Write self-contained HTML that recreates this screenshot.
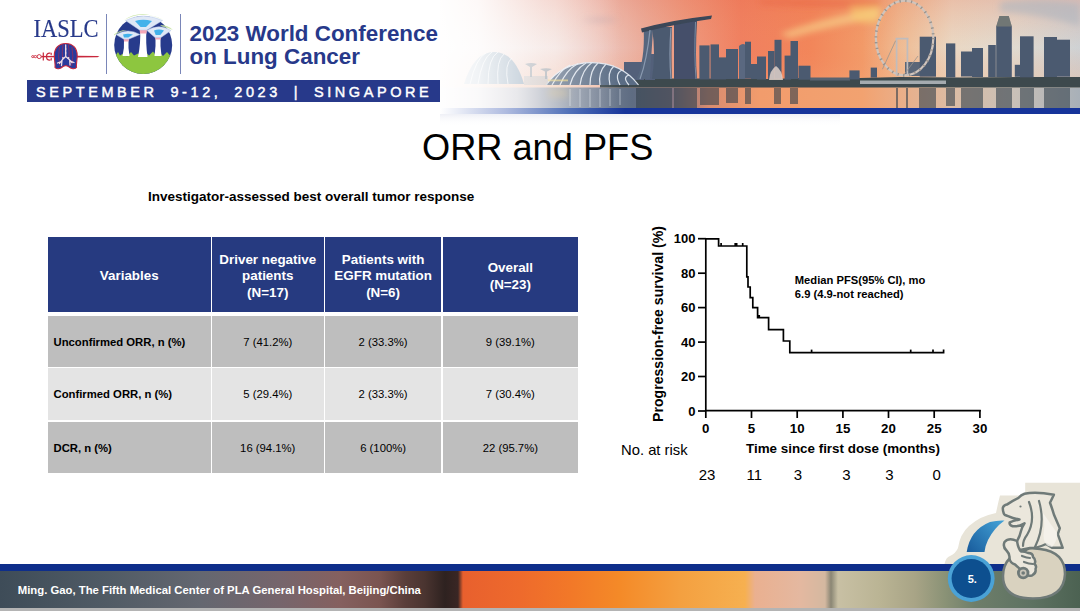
<!DOCTYPE html>
<html><head><meta charset="utf-8">
<style>
html,body{margin:0;padding:0;}
body{width:1080px;height:611px;overflow:hidden;position:relative;background:#fff;font-family:"Liberation Sans",sans-serif;color:#000;}
.a{position:absolute;}
.t{position:absolute;white-space:nowrap;}
.cell{display:flex;align-items:center;box-sizing:border-box;white-space:nowrap;}
</style></head><body>

<!-- HEADER PHOTO -->
<svg class="a" style="left:0;top:0;" width="1080" height="126" viewBox="0 0 1080 126">
<defs>
<linearGradient id="sky" x1="440" y1="0" x2="1080" y2="0" gradientUnits="userSpaceOnUse">
<stop offset="0" stop-color="#f4eaea"/>
<stop offset="0.18" stop-color="#f2e0dc"/>
<stop offset="0.25" stop-color="#eec8c0"/>
<stop offset="0.31" stop-color="#ebb0a0"/>
<stop offset="0.38" stop-color="#ee9a80"/>
<stop offset="0.47" stop-color="#f08060"/>
<stop offset="0.58" stop-color="#f2865a"/>
<stop offset="0.66" stop-color="#f29a68"/>
<stop offset="0.72" stop-color="#efbc94"/>
<stop offset="0.80" stop-color="#ead8c4"/>
<stop offset="0.90" stop-color="#e0dad0"/>
<stop offset="1" stop-color="#cfd2d4"/>
</linearGradient>
<linearGradient id="skyv" x1="0" y1="0" x2="0" y2="87" gradientUnits="userSpaceOnUse">
<stop offset="0" stop-color="#e86848" stop-opacity="0.22"/>
<stop offset="0.55" stop-color="#f08a60" stop-opacity="0"/>
<stop offset="1" stop-color="#f8b080" stop-opacity="0.3"/>
</linearGradient>
<linearGradient id="water" x1="440" y1="0" x2="1080" y2="0" gradientUnits="userSpaceOnUse">
<stop offset="0" stop-color="#e4dce0"/>
<stop offset="0.12" stop-color="#c8c8d0"/>
<stop offset="0.2" stop-color="#8a94a4"/>
<stop offset="0.3" stop-color="#5e6c82"/>
<stop offset="0.36" stop-color="#7a7080"/>
<stop offset="0.42" stop-color="#d88c70"/>
<stop offset="0.5" stop-color="#f29c6c"/>
<stop offset="0.66" stop-color="#f2a270"/>
<stop offset="0.72" stop-color="#eaae88"/>
<stop offset="0.8" stop-color="#dcbca4"/>
<stop offset="0.9" stop-color="#c8c0b8"/>
<stop offset="1" stop-color="#a8b0b8"/>
</linearGradient>
<linearGradient id="fade" x1="430" y1="0" x2="620" y2="0" gradientUnits="userSpaceOnUse">
<stop offset="0" stop-color="#fff" stop-opacity="1"/>
<stop offset="0.25" stop-color="#fff" stop-opacity="0.88"/>
<stop offset="0.6" stop-color="#fff" stop-opacity="0.4"/>
<stop offset="1" stop-color="#fff" stop-opacity="0"/>
</linearGradient>
<linearGradient id="bar" x1="440" y1="0" x2="625" y2="0" gradientUnits="userSpaceOnUse">
<stop offset="0" stop-color="#ffffff"/>
<stop offset="0.35" stop-color="#b0bce0"/>
<stop offset="0.7" stop-color="#5070b8"/>
<stop offset="1" stop-color="#16349a"/>
</linearGradient>
<linearGradient id="refl" x1="0" y1="114" x2="0" y2="126" gradientUnits="userSpaceOnUse">
<stop offset="0" stop-color="#c8cce0" stop-opacity="0.5"/>
<stop offset="1" stop-color="#fff" stop-opacity="0"/>
</linearGradient>
<filter id="bl" x="-5%" y="-20%" width="110%" height="140%"><feGaussianBlur stdDeviation="0.55"/></filter>
<filter id="bl2" x="-50%" y="-50%" width="200%" height="200%"><feGaussianBlur stdDeviation="3"/></filter>
</defs>
<rect x="440" y="0" width="640" height="88" fill="url(#sky)"/>
<rect x="440" y="0" width="640" height="88" fill="url(#skyv)"/>
<g filter="url(#bl2)">
<path d="M780,34 Q820,18 880,8 L880,18 Q840,24 790,38 Z" fill="#f8d890" opacity="0.6"/>
<path d="M850,6 Q862,2 880,4 L878,24 Q862,24 852,20 Z" fill="#f8d070" opacity="0.5"/>
<path d="M1000,2 Q1040,-4 1080,4 V26 Q1040,14 1000,12 Z" fill="#aab4c0" opacity="0.55"/>
<path d="M760,0 H880 V6 Q820,8 760,4 Z" fill="#e86040" opacity="0.5"/>
<path d="M580,20 Q600,16 620,20 Q600,24 580,20 Z" fill="#b8a0a8" opacity="0.5"/>
</g>
<rect x="440" y="87.5" width="640" height="21" fill="url(#water)"/>
<g filter="url(#bl)">
<!-- base band -->
<path d="M600,80 L640,78.5 L700,78.5 L770,79 L800,78 L860,78 L900,77 L960,77.5 L1020,77 L1080,77 V87.6 H600 Z" fill="#3e4a4e"/>
<rect x="860" y="80.5" width="86" height="3.5" fill="#c8ccd0" opacity="0.75"/>
<rect x="810" y="77.5" width="40" height="3" fill="#5a6470"/>
<g fill="#4c5a70">
<!-- MBS -->
<rect x="624" y="62" width="20" height="18" fill="#52607a"/>
<rect x="645" y="54" width="10" height="26" fill="#52607a"/>
<path d="M643.7,30 L653,30 Q651,60 650,79 L636.5,79 Q645,60 643.7,30 Z" fill="#56667e"/>
<path d="M652,27 L672,27 Q671,55 672,79 L652,79 Q656,55 652,27 Z"/>
<path d="M674,21 L697,21 Q695,55 697,79 L674,79 Z" fill="#44506a"/>
<path d="M641,28.5 Q672,20 712,15.5 L711,19 Q675,24 642,32.5 Z" fill="#3a4658"/>
<path d="M650,30 Q647,60 640,79" stroke="#8a9ab0" stroke-width="1.2" fill="none"/>
<path d="M671,28 Q669,55 671,79" stroke="#8a9ab0" stroke-width="1.2" fill="none"/>
<path d="M695.5,22 Q694,55 696,79" stroke="#7a8aa0" stroke-width="1" fill="none"/>
<!-- city -->
<rect x="699.4" y="45.4" width="10.2" height="34"/>
<rect x="710.5" y="44.4" width="8.5" height="35"/>
<rect x="719" y="57.4" width="7" height="22"/>
<rect x="726" y="49" width="12" height="30"/>
<path d="M739,46 Q742,43 745,44.4 V79 H739 Z" fill="#5a6880"/>
<rect x="745" y="41.7" width="6" height="37"/>
<rect x="751" y="64" width="6" height="15"/>
<rect x="757" y="56.5" width="9" height="23"/>
<rect x="768" y="51" width="6.5" height="28"/>
<rect x="774.5" y="39.8" width="7" height="39"/>
<rect x="784.6" y="55.6" width="6.4" height="24"/>
<rect x="790.5" y="41" width="7.5" height="38"/>
<rect x="798.5" y="65.7" width="12" height="14"/>
<rect x="849.4" y="70.4" width="10.2" height="9"/>
<rect x="870.7" y="67.6" width="6.3" height="10"/>
<rect x="905" y="62" width="15" height="14" fill="#5a6678"/>
<rect x="919.7" y="36.7" width="16.3" height="40"/>
<rect x="946" y="43.4" width="9.3" height="34"/>
<rect x="961" y="51.5" width="11" height="25"/>
<rect x="972" y="48" width="11" height="29"/>
<rect x="988.2" y="45" width="7.6" height="32"/>
<path d="M996.2,26.5 L999.5,15.9 L1008.7,15.9 L1011.8,26.5 V77 H996.2 Z"/>
<rect x="1014.8" y="64.8" width="5.2" height="12"/>
<rect x="1020" y="36.3" width="13.6" height="41"/>
<rect x="1044" y="37" width="13" height="40"/>
<rect x="1057" y="39.7" width="13" height="37"/>
</g>
<path d="M999.5,15.9 L1008.7,15.9 L1011.8,26.5 H996.2 Z" fill="#8a8a78" opacity="0.6"/>
<path d="M769,80 Q770,70 776,66 Q782,70 783,80 Z" fill="#e8d8d0" opacity="0.8"/>
<!-- Flyer -->
<ellipse cx="904.6" cy="38" rx="28.7" ry="37.3" fill="none" stroke="#d0c4bc" stroke-width="2.2"/>
<ellipse cx="904.6" cy="38" rx="28.7" ry="37.3" fill="none" stroke="#9a948e" stroke-width="2.8" stroke-dasharray="1.3 4.5"/>
<g fill="none" stroke="#c0bcbc" stroke-width="1.7">
<path d="M896.6,39 V76 M907.4,39 V76 M895.5,38.7 H908.5"/>
</g>
<path d="M882.4,69.3 L895.6,40.7 M903,76 L918,56" stroke="#9a948e" stroke-width="0.8" fill="none"/>
<!-- Domes -->
<path d="M546,85 Q562,62.6 592,62.6 Q622,63 638.5,85 Z" fill="#5a6c84"/>
<g stroke="#e8eef6" stroke-width="1.2" fill="none" opacity="0.9">
<path d="M546,85 Q562,62.6 592,62.6 Q622,63 638.5,85"/>
<path d="M552,85 Q560,70 570,65 M560,85 Q566,70 578,63.5 M570,85 Q574,70 586,63 M580,85 Q582,70 592,62.6 M590,85 Q590,70 598,63 M600,85 Q598,72 606,64 M610,85 Q607,72 614,66 M620,85 Q614,74 622,70 M629,85 Q622,77 629,75"/>
</g>
<rect x="548" y="79.5" width="20" height="1.8" fill="#e8d070" opacity="0.7"/>
<path d="M464,84 Q474,52 494,52 Q515,52 524,84 Z" fill="#8ea4b8"/>
<g stroke="#f0f4f8" stroke-width="1" fill="none" opacity="0.8">
<path d="M470,84 Q476,58 486,53 M478,84 Q482,58 492,52 M488,84 Q488,58 498,52 M498,84 Q496,60 504,54 M508,84 Q504,64 512,58"/>
</g>
<rect x="524" y="76" width="24" height="9" fill="#a8b4bc" opacity="0.5"/>
<path d="M525,64 Q531,62 537,64 L532,67 V77 H530 V67 Z M540,69 Q546,67.5 552,69 L547,71.5 V79 H545 V71.5 Z" fill="#8a98a4" opacity="0.75"/>
</g>
<!-- water reflections -->
<g opacity="0.6" fill="#34424e" filter="url(#bl)">

<rect x="636" y="88" width="17" height="20"/>
<rect x="652" y="88" width="20" height="20"/>
<rect x="674" y="88" width="23" height="20"/>
<rect x="700" y="88" width="19" height="17"/>
<rect x="726" y="88" width="12" height="15"/>
<rect x="745" y="88" width="6" height="16"/>
<rect x="774" y="88" width="7" height="16"/>
<rect x="790" y="88" width="8" height="16"/>
<rect x="896" y="88" width="2" height="20"/>
<rect x="906" y="88" width="2" height="20"/>
<rect x="919" y="88" width="17" height="20"/>
<rect x="946" y="88" width="9" height="18"/>
<rect x="961" y="88" width="22" height="20"/>
<rect x="996" y="88" width="16" height="20"/>
<rect x="1020" y="88" width="14" height="20"/>
<rect x="1044" y="88" width="26" height="20"/>
</g>
<g stroke="#e8eef4" stroke-width="1" opacity="0.5">
<path d="M570,89 V106 M580,89 V107 M590,89 V107 M600,89 V107 M610,89 V106 M620,89 V105"/>
</g>
<rect x="548" y="88" width="20" height="10" fill="#e8c070" opacity="0.3" filter="url(#bl2)"/>
<rect x="430" y="0" width="191" height="108" fill="url(#fade)"/>
<rect x="440" y="108" width="640" height="6" fill="url(#bar)"/>
<rect x="440" y="114" width="400" height="12" fill="url(#refl)" opacity="0.6"/>
</svg>

<!-- LOGO AREA -->
<svg class="a" style="left:0;top:0;" width="440" height="80" viewBox="0 0 440 80">
<defs>
<clipPath id="cc"><circle cx="143.2" cy="45" r="29"/></clipPath>
</defs>
<!-- lungs -->
<path d="M76,55.7 L97.5,55.9 L99.5,56.6 L97.5,57.3 L76,57.5 Z" fill="#c8283c"/>
<path d="M38,56.6 H56" stroke="#c8283c" stroke-width="1.4"/>
<g fill="#fff" stroke="#d03a4c" stroke-width="1">
<ellipse cx="32.8" cy="56.6" rx="1.2" ry="1"/><ellipse cx="35.4" cy="56.6" rx="1.3" ry="1.1"/><circle cx="39.2" cy="56.6" r="2"/>
</g>
<g fill="none" stroke="#c8283c" stroke-width="1.2">
<path d="M43.3,52.6 V60.4"/>
<path d="M50.5,53.2 Q46.5,52.5 46.5,56.6 Q46.5,60.7 50.5,60"/>
<path d="M51.5,52.8 Q50.5,54 51.5,55 M51.5,60.4 Q50.5,59.2 51.5,58.2"/>
</g>
<path d="M65.7,43.5 C72.5,43.5 77.2,48 77.2,55.5 C77.2,61 76,63.5 76.5,67.5 C75,69.5 71,69 68.5,66.5 L65.7,65.5 L63,66.5 C60.5,69 56.5,69.5 55,67.5 C55.5,63.5 54.3,61 54.3,55.5 C54.3,48 59,43.5 65.7,43.5 Z" fill="#2a3a9c" stroke="#c8283c" stroke-width="1.1"/>
<g stroke="#c8283c" stroke-width="0.6" fill="none" opacity="0.9">
<path d="M59.5,47 Q57.5,56 59.8,66 M71.9,47 Q74,56 71.6,66 M63,45 Q61.8,52 62.5,58 M68.4,45 Q69.6,52 68.9,58"/>
</g>
<g stroke="#f2dce4" stroke-width="1.3" fill="none" stroke-linecap="round">
<path d="M65.7,45 V56.5 Q62.5,59 59.5,63.5 M65.7,56.5 Q69,59 72,62.5 M62,60.5 L61.5,65.5 M69.7,60 L70,65 M60,62 L57.5,63 M71.5,61.5 L74,62.5"/>
</g>
<g fill="#f2dce4"><circle cx="65.7" cy="49" r="0.8"/><circle cx="65.7" cy="53" r="0.8"/><circle cx="63" cy="58" r="0.9"/><circle cx="68.5" cy="58" r="0.9"/></g>
<!-- circle logo -->
<g clip-path="url(#cc)">
<rect x="110" y="10" width="70" height="70" fill="#273b8c"/>
<path d="M110,57 L113,54 L115,56.5 L118,52 L120,55.5 L124,53 L127,56.5 L131,52 L134,55.5 L138,53.5 L142,56.5 L146,52.5 L149,55.5 L153,51.5 L156,55.5 L160,52.5 L163,56 L167,52 L170,55.5 L176,53 V80 H110 Z" fill="#8dc63f"/>
</g>
<g fill="#ffffff">
<path d="M140,30 L146.5,30 Q145.5,42 147.5,57 L138,57 Q141,42 140,30 Z"/>
<path d="M124,39 L128.5,39 Q128,48 129.5,56 L122.5,56 Q124.5,48 124,39 Z"/>
<path d="M155.5,37 L160.5,37 Q160,46 161.5,56 L154.5,56 Q156,46 155.5,37 Z"/>
</g>
<g fill="#f4a8b8">
<path d="M139.5,28.5 H147 L146.5,33.5 H140 Z"/>
<path d="M123.5,37.5 H129 L128.5,41.5 H124 Z"/>
<path d="M155,35.5 H161 L160.7,39.5 H155.5 Z"/>
</g>
<g fill="#dfe8f6" stroke="#b8c8e8" stroke-width="0.5">
<path d="M125.5,20.5 Q143,11.5 162.5,20.5 L147,30 H139.5 Z"/>
<path d="M116,34.5 Q128,27.5 140,34.5 L129,39 H123.5 Z"/>
<path d="M147,30.5 Q159,23 171,30.5 L161,37.5 H155 Z"/>
</g>
<g fill="#44b2ea">
<path d="M135,21 Q143,18.5 152,21 L146,27 H140.5 Z"/>
<path d="M123,34.5 Q128,33 133,34.5 L128.3,37.5 H124 Z"/>
<path d="M154,30.5 Q159,28.5 164,30.5 L160.3,35 H155.7 Z"/>
</g>
<g fill="#c4e29c" opacity="0.85">
<path d="M124,20 Q143,9.5 164,20 Q150,14 143,14 Q132,14 124,20 Z"/>
<path d="M114,34.5 Q120,29.5 127,30 Q119,31.5 114,35.5 Z"/>
<path d="M160,25 Q168,25 173,30 Q168,27.5 162,26.5 Z"/>
</g>
</svg>
<div class="t" style="left:33.5px;top:14.8px;font-family:'Liberation Serif',serif;font-size:22.5px;line-height:26px;color:#27398a;transform:scaleY(1.097);transform-origin:0 0;-webkit-text-stroke:0.15px #27398a;">IASLC</div>
<div class="a" style="left:106px;top:14px;width:1px;height:60px;background:#7a86b8;"></div>
<div class="a" style="left:180px;top:14px;width:1px;height:60px;background:#7a86b8;"></div>
<div class="t" style="left:189.5px;top:21.8px;font-size:22.4px;font-weight:bold;color:#27398a;line-height:23.3px;">2023 World Conference<br>on Lung Cancer</div>
<div class="a" style="left:27px;top:79.5px;width:413px;height:22.4px;background:#27398a;"></div>
<div class="t" style="left:36px;top:82.6px;font-size:14.5px;font-weight:normal;-webkit-text-stroke:0.45px #fff;color:#fff;letter-spacing:3.57px;word-spacing:5.3px;line-height:18px;">SEPTEMBER 9-12, 2023 | SINGAPORE</div>

<!-- TITLE -->
<div class="t" style="left:422px;top:127.3px;font-size:36.2px;line-height:42px;">ORR and PFS</div>
<div class="t" style="left:148px;top:188.6px;font-size:13.5px;font-weight:bold;line-height:16px;">Investigator-assessed best overall tumor response</div>

<!-- TABLE -->
<div id="tbl">
<div class="a cell" style="left:48px;top:237px;width:162.5px;height:75px;background:#263a80;color:#fff;font-weight:bold;font-size:13.4px;line-height:16.2px;text-align:center;justify-content:center;padding-top:4px;">Variables</div>
<div class="a cell" style="left:212px;top:237px;width:111.5px;height:75px;background:#263a80;color:#fff;font-weight:bold;font-size:13.4px;line-height:16.2px;text-align:center;justify-content:center;padding-top:4px;">Driver negative<br>patients<br>(N=17)</div>
<div class="a cell" style="left:325px;top:237px;width:116.2px;height:75px;background:#263a80;color:#fff;font-weight:bold;font-size:13.4px;line-height:16.2px;text-align:center;justify-content:center;padding-top:4px;">Patients with<br>EGFR mutation<br>(N=6)</div>
<div class="a cell" style="left:442.7px;top:237px;width:135.3px;height:75px;background:#263a80;color:#fff;font-weight:bold;font-size:13.4px;line-height:16.2px;text-align:center;justify-content:center;padding-top:4px;">Overall<br>(N=23)</div>
<div class="a cell" style="left:48px;top:315.5px;width:162.5px;height:51.0px;background:#bebebe;font-weight:bold;font-size:11.3px;line-height:14px;padding-left:5.5px;padding-top:1px;">Unconfirmed ORR, n (%)</div>
<div class="a cell" style="left:212px;top:315.5px;width:111.5px;height:51.0px;background:#bebebe;font-size:11.3px;line-height:14px;text-align:center;justify-content:center;padding-top:1px;">7 (41.2%)</div>
<div class="a cell" style="left:325px;top:315.5px;width:116.2px;height:51.0px;background:#bebebe;font-size:11.3px;line-height:14px;text-align:center;justify-content:center;padding-top:1px;">2 (33.3%)</div>
<div class="a cell" style="left:442.7px;top:315.5px;width:135.3px;height:51.0px;background:#bebebe;font-size:11.3px;line-height:14px;text-align:center;justify-content:center;padding-top:1px;">9 (39.1%)</div>
<div class="a cell" style="left:48px;top:367.5px;width:162.5px;height:52.5px;background:#e4e4e4;font-weight:bold;font-size:11.3px;line-height:14px;padding-left:5.5px;padding-top:1px;">Confirmed ORR, n (%)</div>
<div class="a cell" style="left:212px;top:367.5px;width:111.5px;height:52.5px;background:#e4e4e4;font-size:11.3px;line-height:14px;text-align:center;justify-content:center;padding-top:1px;">5 (29.4%)</div>
<div class="a cell" style="left:325px;top:367.5px;width:116.2px;height:52.5px;background:#e4e4e4;font-size:11.3px;line-height:14px;text-align:center;justify-content:center;padding-top:1px;">2 (33.3%)</div>
<div class="a cell" style="left:442.7px;top:367.5px;width:135.3px;height:52.5px;background:#e4e4e4;font-size:11.3px;line-height:14px;text-align:center;justify-content:center;padding-top:1px;">7 (30.4%)</div>
<div class="a cell" style="left:48px;top:421.5px;width:162.5px;height:51.0px;background:#bebebe;font-weight:bold;font-size:11.3px;line-height:14px;padding-left:5.5px;padding-top:1px;">DCR, n (%)</div>
<div class="a cell" style="left:212px;top:421.5px;width:111.5px;height:51.0px;background:#bebebe;font-size:11.3px;line-height:14px;text-align:center;justify-content:center;padding-top:1px;">16 (94.1%)</div>
<div class="a cell" style="left:325px;top:421.5px;width:116.2px;height:51.0px;background:#bebebe;font-size:11.3px;line-height:14px;text-align:center;justify-content:center;padding-top:1px;">6 (100%)</div>
<div class="a cell" style="left:442.7px;top:421.5px;width:135.3px;height:51.0px;background:#bebebe;font-size:11.3px;line-height:14px;text-align:center;justify-content:center;padding-top:1px;">22 (95.7%)</div>
</div>

<!-- CHART -->
<div id="chart">
<svg class="a" style="left:0;top:0;" width="1080" height="611" viewBox="0 0 1080 611">
<g stroke="#000" stroke-width="1.7" fill="none" stroke-linecap="butt">
<path d="M705.8,238 V411.5 M705,410.6 H980.8"/>
<path d="M698,411.0 H706"/>
<path d="M698,376.5 H706"/>
<path d="M698,342.1 H706"/>
<path d="M698,307.6 H706"/>
<path d="M698,273.2 H706"/>
<path d="M698,238.7 H706"/>
<path d="M705.8,410 V418"/>
<path d="M751.5,410 V418"/>
<path d="M797.2,410 V418"/>
<path d="M842.9,410 V418"/>
<path d="M888.5,410 V418"/>
<path d="M934.2,410 V418"/>
<path d="M979.9,410 V418"/>
<path d="M705.8,238.8 H718.6 V246 H746.8 V276.8 H748 V287 H750.2 V297.7 H752.8 V307.7 H757.6 V317.7 H768.6 V329.6 H783.4 V341 H789.8 V352.6 H943.6 V349.5" stroke-linejoin="miter"/>
<path d="M721.1,246 V243"/>
<path d="M735.6,246 V243"/>
<path d="M742.7,246 V243"/>
<path d="M811.6,352.6 V349.6"/>
<path d="M910.7,352.6 V349.6"/>
<path d="M933,352.6 V349.6"/>
<rect x="734.5" y="243" width="3" height="3" fill="#000" stroke="none"/>
<rect x="757.6" y="315" width="2.5" height="3" fill="#000" stroke="none"/>
</g>
<g font-family="Liberation Sans" font-weight="bold" font-size="13" fill="#000">
<text x="695.5" y="415.6" text-anchor="end">0</text>
<text x="695.5" y="381.1" text-anchor="end">20</text>
<text x="695.5" y="346.7" text-anchor="end">40</text>
<text x="695.5" y="312.2" text-anchor="end">60</text>
<text x="695.5" y="277.8" text-anchor="end">80</text>
<text x="695.5" y="243.3" text-anchor="end">100</text>
<text x="705.8" y="432.7" text-anchor="middle" font-size="13.3">0</text>
<text x="751.5" y="432.7" text-anchor="middle" font-size="13.3">5</text>
<text x="797.2" y="432.7" text-anchor="middle" font-size="13.3">10</text>
<text x="842.9" y="432.7" text-anchor="middle" font-size="13.3">15</text>
<text x="888.5" y="432.7" text-anchor="middle" font-size="13.3">20</text>
<text x="934.2" y="432.7" text-anchor="middle" font-size="13.3">25</text>
<text x="979.9" y="432.7" text-anchor="middle" font-size="13.3">30</text>
<text x="746" y="453" font-size="13.4">Time since first dose (months)</text>
<text transform="translate(663,324) rotate(-90)" text-anchor="middle" font-size="14.1">Progression-free survival (%)</text>
<text x="794.8" y="284.3" font-size="11.2">Median PFS(95% CI), mo</text>
<text x="794.8" y="297.6" font-size="11.2">6.9 (4.9-not reached)</text>
</g>
<g font-family="Liberation Sans" font-size="15" fill="#000" text-anchor="middle">
<text x="621" y="454.7" font-size="14.8" text-anchor="start">No. at risk</text>
<text x="707" y="480.3">23</text>
<text x="754.2" y="480.3">11</text>
<text x="798" y="480.3">3</text>
<text x="846.5" y="480.3">3</text>
<text x="889.3" y="480.3">3</text>
<text x="936.6" y="480.3">0</text>
</g></svg>
</div>

<!-- FOOTER -->
<div class="a" style="left:0;top:563.6px;width:1080px;height:7px;background:#0e2e8a;"></div>
<div class="a" style="left:0;top:570.5px;width:1080px;height:37px;background:linear-gradient(90deg,#3e4c58 0px,#4f5a64 100px,#646770 200px,#76656c 280px,#85605f 340px,#7a5450 380px,#5a3e3a 405px,#4a3430 425px,#2e2220 445px,#3a2624 458px,#e8602e 463px,#ee6a2c 520px,#f27828 570px,#f48a28 620px,#f4a040 680px,#f6b050 745px,#eab090 755px,#e4b8a0 800px,#d4b8a0 825px,#8a8674 831px,#c8c0a4 838px,#bab494 880px,#a8a486 915px,#8a9276 945px,#6e7e6a 975px,#5e7262 1030px,#4c6252 1080px);"></div>
<div class="a" style="left:0;top:607.5px;width:1080px;height:3.5px;background:#b4b4b4;"></div>
<div class="t" style="left:17.8px;top:582.6px;font-size:11.32px;font-weight:bold;color:#fff;line-height:14px;">Ming. Gao, The Fifth Medical Center of PLA General Hospital, Beijing/China</div>

<!-- MERLION -->
<svg class="a" style="left:0;top:0;" width="1080" height="611" viewBox="0 0 1080 611">
<defs>
<linearGradient id="sw" x1="970" y1="552" x2="1004" y2="520" gradientUnits="userSpaceOnUse">
<stop offset="0" stop-color="#1a5e9e"/><stop offset="1" stop-color="#45a4d8"/>
</linearGradient>
</defs>
<path d="M944.5,564 Q946,557 950,556 Q956,553 958,548 Q960,534 969,526 Q980,516 996,513 Q998,503 1000,495.5 H1025.2 V482.8 H1080 V564 Z" fill="#e8e4d8"/>
<path d="M966.7,552 Q970,530 990,522 Q998,520 1004.5,520.5 Q994,528 988,540 Q985,546 984.5,552 Z" fill="url(#sw)"/>
<g stroke="#6f7a78" stroke-width="2.5" stroke-linejoin="round" fill="#d9d2bf">
<path d="M1040,549 Q1065,552 1065,574 Q1064,598.5 1033,598.5 Q1003,598.5 1003,576 Q1003,565 1010,558 L1030,548 Z"/>
</g>
<g stroke="#6f7a78" stroke-width="2.5" stroke-linejoin="round" fill="#ebe7dc">
<path d="M1024.5,493.8 Q1036,491.5 1053.9,494.8 L1050,502.7 Q1052,508 1053.9,514.5 L1059.8,528.2 L1057.8,534.1 L1062.7,547.8 L1052,547.8 L1046,544 Q1038,548 1030,548 L1020,550 Q1014,546 1016.6,542 Q1020,536 1021,531 Q1022,527 1024.5,523.3 Q1018,527 1012.7,526.2 Q1009,525 1009.7,522.3 Q1014,520.5 1019.5,519.4 Q1013,518.5 1008.7,516.4 Q1004,515 1003.8,513.5 Q1002.5,510 1002.9,507.6 Q1004,505 1006.8,504.6 Q1012,501 1018.6,497.8 Q1021,495 1024.5,493.8 Z"/>
<path d="M1017,541 Q1009,537 1004.5,542 Q1002.5,547 1006.5,550.5 Q1010,554 1009.5,558 Q1010,563 1015,564.5 Q1019,568 1022,571 Q1026,577 1032,575.5 Q1036.5,573 1035.5,569 Q1037,566 1034.5,564 Q1036.5,560 1033,557 Q1033,553 1028,553 Q1024,551 1021,551.5 Q1018,548 1017,541 Z"/>
</g>
<path d="M1034,500 Q1046,512 1044,530 Q1042,542 1048,546 L1052,547 Q1058,540 1057,533 Z" fill="#f6f4ee" opacity="0.8"/>
<g stroke="#6f7a78" stroke-width="2.2" fill="none" stroke-linecap="round">
<path d="M1029,502 Q1036,520 1027,535 Q1023,540 1023,546"/>
<path d="M1039,501 Q1046,525 1035,547"/>
<path d="M1022,556 Q1027,558 1030,558 M1024,562 Q1029,564 1033,564"/>
</g>
<circle cx="1023.2" cy="573" r="4.8" fill="#c8c4b8" stroke="#6f7a78" stroke-width="2.8"/>
<circle cx="1023.2" cy="573" r="1.8" fill="#6f7a78"/>
<circle cx="1020.5" cy="506.5" r="1.1" fill="#6f7a78"/>
<circle cx="971.2" cy="578.5" r="23.4" fill="#4aa2d6"/>
<circle cx="971.2" cy="578.5" r="19.6" fill="#0d4f8f"/>
<text x="972.3" y="583.2" font-family="Liberation Sans" font-weight="bold" font-size="11" fill="#fff" text-anchor="middle">5.</text>
</svg>

</body></html>
